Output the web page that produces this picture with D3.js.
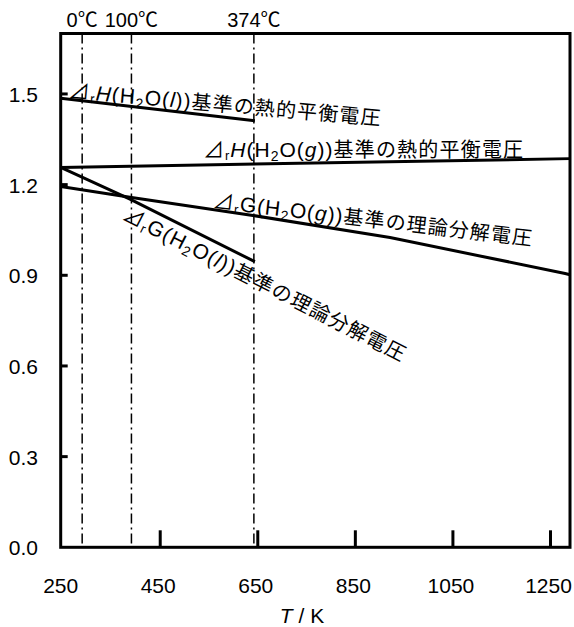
<!DOCTYPE html>
<html>
<head>
<meta charset="utf-8">
<script src="https://cdn.jsdelivr.net/npm/d3@7"></script>
<style>
  body { margin: 0; background: #fff; }
  text { font-family: "Liberation Sans", Arial, "Noto Sans CJK JP", sans-serif; fill: #000; }
</style>
</head>
<body>
<div id="container"></div>
<script>
// axis ranges and ticks
const tDomain = [246, 1290];
const vDomain = [0, 1.7];
const xTickValues = [250, 450, 650, 850, 1050, 1250];
const yTickValues = [0.0, 0.3, 0.6, 0.9, 1.2, 1.5];

// reference temperatures (dash-dot lines)
const refTemps = [290, 391, 642];
const refLabels = ["0℃", "100℃", "374℃"];

// series (T in K, voltage in V)
const hLiqT = [246, 644];
const hLiqV = [1.486, 1.411];
const hGasT = [246, 1290];
const hGasV = [1.257, 1.286];
const gGasT = [246, 388, 640, 921, 1280, 1290];
const gGasV = [1.194, 1.158, 1.098, 1.025, 0.906, 0.902];
const gLiqT = [246, 388, 644];
const gLiqV = [1.257, 1.152, 0.945];

const width = 574, height = 627;
const plot = { left: 60.7, right: 570, top: 33.5, bottom: 547.3 };

const svg = d3.select("#container").append("svg")
    .attr("width", width)
    .attr("height", height);

const x = d3.scaleLinear().domain(tDomain).range([plot.left, plot.right]);
const y = d3.scaleLinear().domain(vDomain).range([plot.bottom, plot.top]);

// dash-dot reference lines
svg.selectAll("line.ref")
    .data(refTemps)
  .enter().append("line")
    .attr("class", "ref")
    .attr("x1", d => x(d)).attr("x2", d => x(d))
    .attr("y1", y(vDomain[1])).attr("y2", y(0))
    .attr("stroke", "#000")
    .attr("stroke-width", 1.5)
    .attr("stroke-dasharray", "10,4,2,4");

svg.selectAll("text.ref")
    .data(refTemps)
  .enter().append("text")
    .attr("class", "ref")
    .attr("x", d => x(d))
    .attr("y", 27)
    .attr("text-anchor", "middle")
    .style("font-size", "20px")
    .text((d, i) => refLabels[i]);

// x ticks (inside, only where not on the frame)
svg.selectAll("line.xtick")
    .data(xTickValues.slice(1))
  .enter().append("line")
    .attr("class", "xtick")
    .attr("x1", d => x(d)).attr("x2", d => x(d))
    .attr("y1", y(0)).attr("y2", y(0) - 17)
    .attr("stroke", "#000")
    .attr("stroke-width", 3);

svg.selectAll("text.xtick")
    .data(xTickValues)
  .enter().append("text")
    .attr("class", "xtick")
    .attr("x", d => x(d) - 2)
    .attr("y", 593)
    .attr("text-anchor", "middle")
    .style("font-size", "21px")
    .text(d => d);

// y ticks
svg.selectAll("line.ytick")
    .data(yTickValues.slice(1))
  .enter().append("line")
    .attr("class", "ytick")
    .attr("x1", plot.left).attr("x2", plot.left + 7)
    .attr("y1", d => y(d)).attr("y2", d => y(d))
    .attr("stroke", "#000")
    .attr("stroke-width", 3);

svg.selectAll("text.ytick")
    .data(yTickValues)
  .enter().append("text")
    .attr("class", "ytick")
    .attr("x", 38)
    .attr("y", d => y(d) + 8)
    .attr("text-anchor", "end")
    .style("font-size", "21px")
    .text(d => d.toFixed(1));

// frame
svg.append("rect")
    .attr("x", plot.left).attr("y", plot.top)
    .attr("width", plot.right - plot.left)
    .attr("height", plot.bottom - plot.top)
    .attr("fill", "none")
    .attr("stroke", "#000")
    .attr("stroke-width", 3);

// data lines
const line = d3.line().x(d => x(d[0])).y(d => y(d[1]));
[[hLiqT, hLiqV], [hGasT, hGasV], [gGasT, gGasV], [gLiqT, gLiqV]].forEach(([ts, vs]) => {
    svg.append("path")
        .datum(d3.zip(ts, vs))
        .attr("d", line)
        .attr("fill", "none")
        .attr("stroke", "#000")
        .attr("stroke-width", 3)
        .attr("stroke-linejoin", "round");
});

// axis title
const title = svg.append("text")
    .attr("x", 302)
    .attr("y", 623)
    .attr("text-anchor", "middle")
    .style("font-size", "21px");
title.append("tspan").style("font-style", "italic").text("T");
title.append("tspan").text(" / K");

// curve labels
function label(px, py, angle, sym, phase, tail) {
    const t = svg.append("text")
        .attr("x", px).attr("y", py)
        .attr("transform", `rotate(${angle},${px},${py})`)
        .style("font-size", "21px")
        .style("letter-spacing", "1px");
    t.append("tspan").style("font-family", "Noto Sans CJK JP").style("font-size", "21px").text("⊿");
    t.append("tspan").attr("dy", 3).style("font-size", "13px").text("r");
    t.append("tspan").attr("dy", -3).style("font-style", sym === "H" ? "italic" : "normal").text(sym);
    t.append("tspan").text("(H");
    t.append("tspan").attr("dy", 4).style("font-size", "14px").text("2");
    t.append("tspan").attr("dy", -4).text("O(");
    t.append("tspan").style("font-style", "italic").text(phase);
    t.append("tspan").text("))");
    t.append("tspan").style("font-family", "Noto Sans CJK JP").style("font-size", "20px")
        .style("letter-spacing", "1.2px").text(tail);
}

label(68, 98, 5, "H", "l", "基準の熱的平衡電圧");
label(203, 157, 0, "H", "g", "基準の熱的平衡電圧");
label(212, 208, 6.7, "G", "g", "基準の理論分解電圧");
label(121, 219, 27, "G", "l", "基準の理論分解電圧");
</script>
</body>
</html>
